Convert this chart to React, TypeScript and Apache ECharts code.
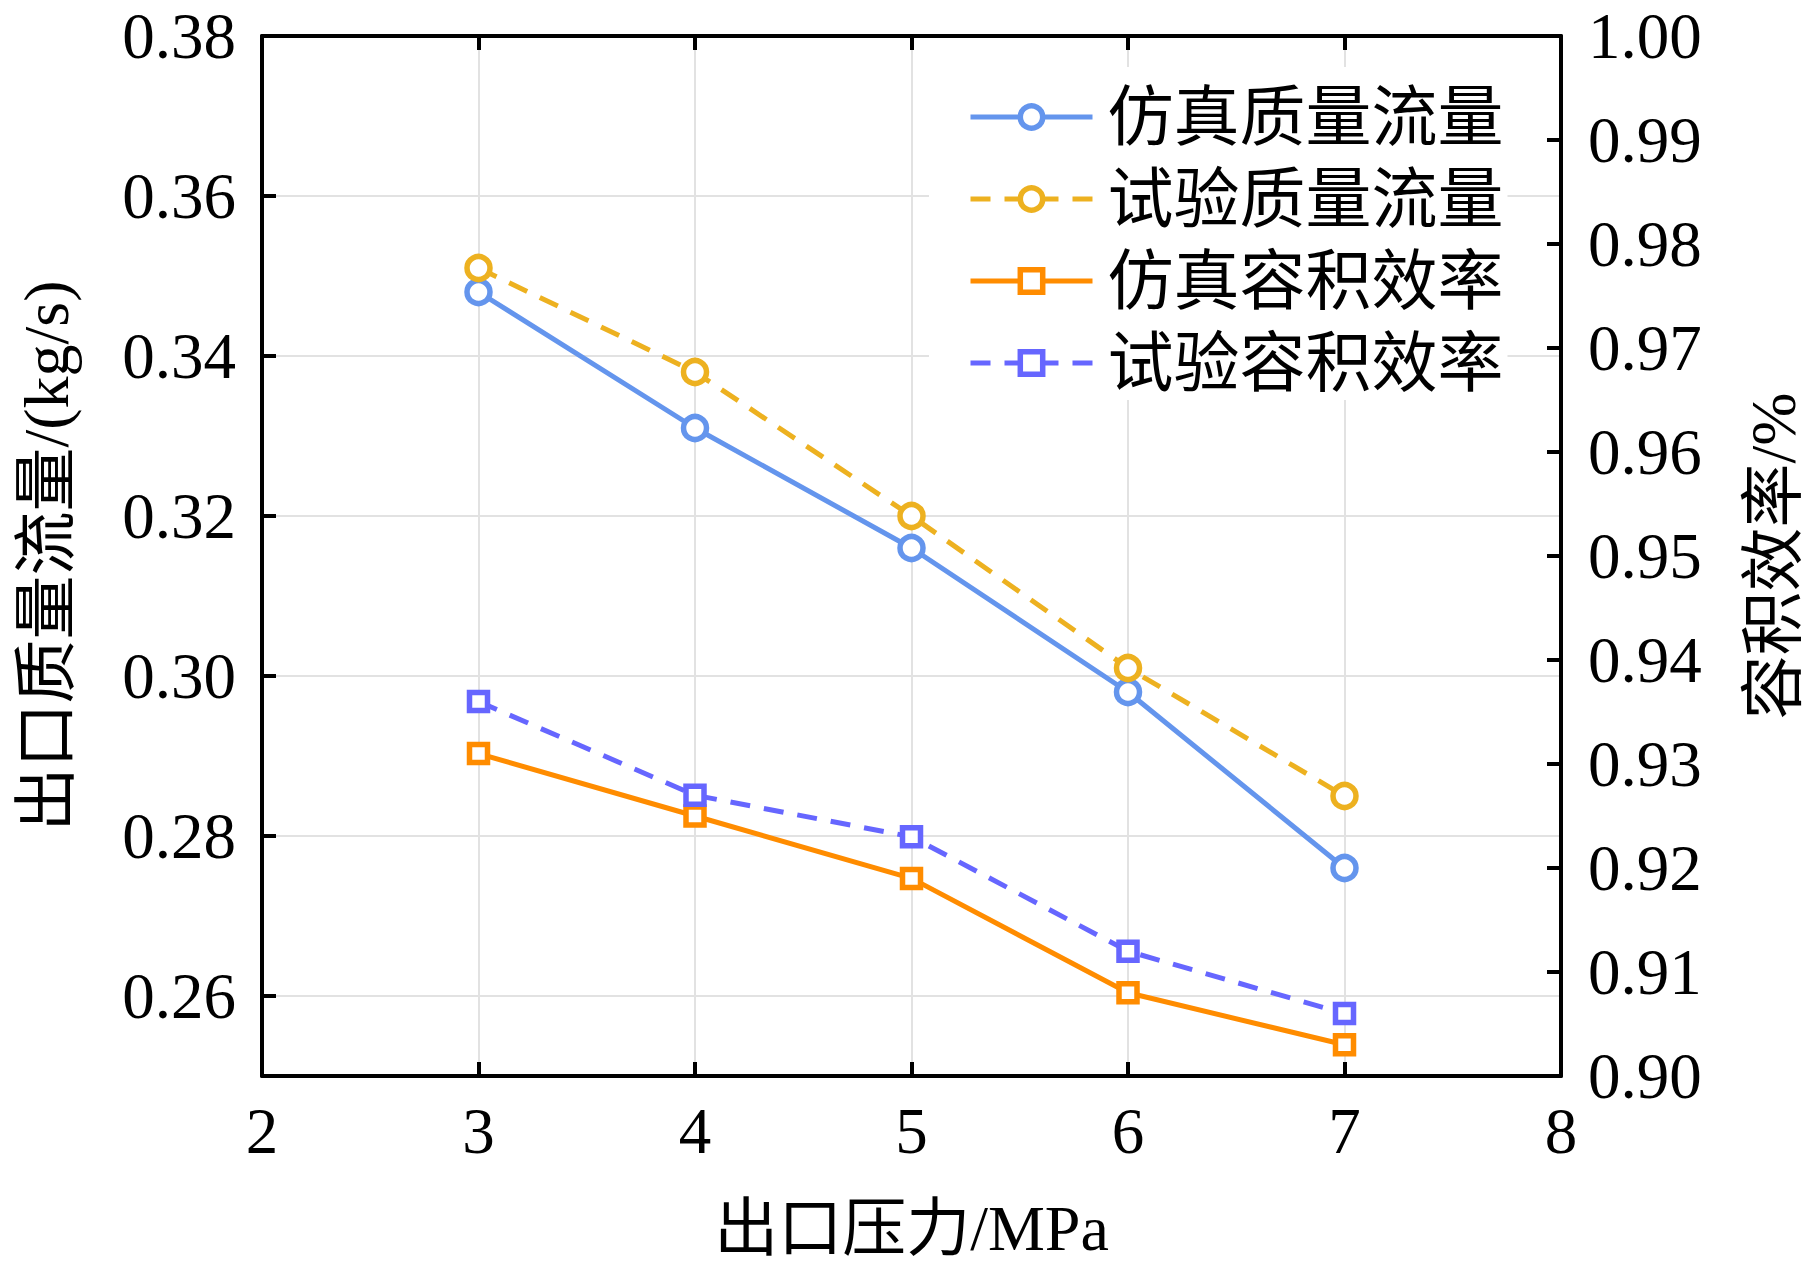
import { useEffect, useRef } from 'react'
import * as echarts from 'echarts'

// 出口压力 (MPa)
const pressure = [3, 4, 5, 6, 7]
// 质量流量 (kg/s)，左轴
const simFlow = [0.348, 0.331, 0.316, 0.298, 0.276]
const testFlow = [0.351, 0.338, 0.32, 0.301, 0.285]
// 容积效率，右轴
const simEff = [0.931, 0.925, 0.919, 0.908, 0.903]
const testEff = [0.936, 0.927, 0.923, 0.912, 0.906]

const leftLabels = [0.26, 0.28, 0.3, 0.32, 0.34, 0.36, 0.38]
const seriesNames = ['仿真质量流量', '试验质量流量', '仿真容积效率', '试验容积效率']
const colors = ['#6495ED', '#EDB120', '#FF8C00', '#6666FF']

const FONT = "'Liberation Serif', 'Times New Roman', 'Noto Sans CJK SC', serif"
const FRAME = { show: true, onZero: false, lineStyle: { color: '#000', width: 4 } }
const TICK = { show: true, inside: true, length: 14, lineStyle: { color: '#000', width: 4 } }
const GRID_LINE = { show: true, lineStyle: { color: '#e2e2e2', width: 2 } }
const DASH = [20, 14]

const pairs = (ys: number[]) => pressure.map((x, i) => [x, ys[i]])

export default function App() {
  const ref = useRef<HTMLDivElement>(null)

  useEffect(() => {
    if (!ref.current) return
    const chart = echarts.init(ref.current, undefined, { renderer: 'svg' })

    const line = (idx: number, data: number[], yAxisIndex: number, symbol: string, dashed: boolean) => ({
      name: seriesNames[idx],
      type: 'line' as const,
      yAxisIndex,
      data: pairs(data),
      symbol,
      symbolSize: symbol === 'circle' ? 23 : 18,
      lineStyle: { color: colors[idx], width: 5, type: dashed ? DASH : 'solid' },
      itemStyle: { color: '#fff', borderColor: colors[idx], borderWidth: 5.5 },
      emphasis: { disabled: true },
      z: 3,
    })

    chart.setOption({
      animation: false,
      backgroundColor: '#fff',
      textStyle: { fontFamily: FONT },
      grid: { left: 262, right: 258, top: 36, bottom: 200, containLabel: false },
      legend: {
        orient: 'vertical',
        left: 929,
        top: 67,
        backgroundColor: '#fff',
        padding: [17, 4, 4, 39],
        itemWidth: 122,
        itemHeight: 28,
        itemGap: 16,
        lineStyle: { width: 5 },
        itemStyle: { borderWidth: 5.5 },
        textStyle: { fontSize: 66, lineHeight: 66, color: '#000', fontFamily: FONT, padding: [0, 0, 0, 10] },
        data: seriesNames,
      },
      xAxis: [
        {
          type: 'value',
          min: 2,
          max: 8,
          interval: 1,
          position: 'bottom',
          name: '出口压力/MPa',
          nameLocation: 'middle',
          nameGap: 120,
          nameTextStyle: { fontSize: 64, color: '#000', fontFamily: FONT },
          axisLine: FRAME,
          axisTick: TICK,
          axisLabel: { fontSize: 65, color: '#000', margin: 22, fontFamily: FONT },
          splitLine: GRID_LINE,
        },
        {
          type: 'value',
          min: 2,
          max: 8,
          interval: 1,
          position: 'top',
          axisLine: FRAME,
          axisTick: TICK,
          axisLabel: { show: false },
          splitLine: { show: false },
        },
      ],
      yAxis: [
        {
          type: 'value',
          min: 0.25,
          max: 0.38,
          position: 'left',
          name: '出口质量流量/(kg/s)',
          nameLocation: 'middle',
          nameRotate: 90,
          nameGap: 184,
          nameTextStyle: { fontSize: 64, color: '#000', fontFamily: FONT },
          axisLine: FRAME,
          axisTick: { ...TICK, customValues: leftLabels },
          axisLabel: {
            fontSize: 65,
            color: '#000',
            margin: 26,
            fontFamily: FONT,
            customValues: leftLabels,
            formatter: (v: number) => v.toFixed(2),
          },
          splitLine: GRID_LINE,
        },
        {
          type: 'value',
          min: 0.9,
          max: 1.0,
          interval: 0.01,
          position: 'right',
          name: '容积效率/%',
          nameLocation: 'middle',
          nameRotate: 90,
          nameGap: 180,
          nameTextStyle: { fontSize: 64, color: '#000', fontFamily: FONT },
          axisLine: FRAME,
          axisTick: TICK,
          axisLabel: {
            fontSize: 65,
            color: '#000',
            margin: 27,
            fontFamily: FONT,
            formatter: (v: number) => v.toFixed(2),
          },
          splitLine: { show: false },
        },
      ],
      series: [
        line(0, simFlow, 0, 'circle', false),
        line(1, testFlow, 0, 'circle', true),
        line(2, simEff, 1, 'rect', false),
        line(3, testEff, 1, 'rect', true),
      ],
    })

    return () => chart.dispose()
  }, [])

  return <div ref={ref} style={{ position: 'absolute', left: 0, top: 0, width: 1819, height: 1276 }} />
}
